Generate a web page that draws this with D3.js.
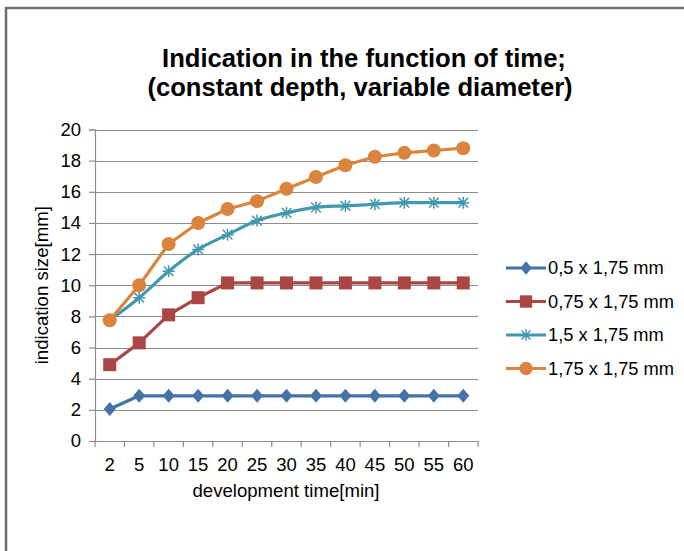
<!DOCTYPE html>
<html>
<head>
<meta charset="utf-8">
<script src="https://cdn.jsdelivr.net/npm/d3@7"></script>
<style>
  html, body { margin: 0; padding: 0; background: #fff; }
  svg { display: block; font-family: Arial, "Liberation Sans", sans-serif; }
</style>
</head>
<body>
<svg id="chart" width="684" height="551"></svg>
<script>
const categories = ["2", "5", "10", "15", "20", "25", "30", "35", "40", "45", "50", "55", "60"];
const yTicks = [0, 2, 4, 6, 8, 10, 12, 14, 16, 18, 20];
const seriesNames = ["0,5 x 1,75 mm", "0,75 x 1,75 mm", "1,5 x 1,75 mm", "1,75 x 1,75 mm"];
const s05  = [2.05, 2.9, 2.9, 2.9, 2.9, 2.9, 2.9, 2.9, 2.9, 2.9, 2.9, 2.9, 2.9];
const s075 = [4.9, 6.3, 8.1, 9.2, 10.15, 10.15, 10.15, 10.15, 10.15, 10.15, 10.15, 10.15, 10.15];
const s15  = [7.75, 9.2, 10.9, 12.3, 13.25, 14.15, 14.65, 15.0, 15.1, 15.2, 15.3, 15.3, 15.3];
const s175 = [7.75, 10.0, 12.65, 14.0, 14.9, 15.4, 16.2, 16.95, 17.7, 18.25, 18.5, 18.65, 18.8];
const seriesValues = [s05, s075, s15, s175];
const colors = ["#4572A7", "#AA4643", "#4198AF", "#DB843D"];
const markers = ["diamond", "square", "star", "circle"];
const smooth = [false, false, true, false];

const svg = d3.select("#chart");

// outer chart border (cropped on right/bottom)
svg.append("rect")
  .attr("x", 6).attr("y", 8).attr("width", 720).attr("height", 600)
  .attr("fill", "#fff").attr("stroke", "#6e6e6e").attr("stroke-width", 2.5);

const plot = { left: 95, right: 478, top: 129.5, bottom: 441 };

const x = d3.scaleBand().domain(categories).range([plot.left, plot.right]).padding(0);
const y = d3.scaleLinear().domain([0, 20]).range([plot.bottom, plot.top]);

// gridlines
svg.append("g").selectAll("line").data(yTicks.filter(d => d > 0)).join("line")
  .attr("x1", plot.left).attr("x2", plot.right)
  .attr("y1", d => Math.round(y(d)) + 0.5).attr("y2", d => Math.round(y(d)) + 0.5)
  .attr("stroke", "#8c8c8c").attr("stroke-width", 1.2);

// y axis
const yAxis = svg.append("g")
  .attr("transform", `translate(${plot.left},0)`)
  .call(d3.axisLeft(y).tickValues(yTicks).tickSize(6).tickPadding(8));
yAxis.select(".domain").attr("stroke", "#8c8c8c").attr("stroke-width", 1.2);
yAxis.selectAll(".tick line").attr("stroke", "#8c8c8c").attr("stroke-width", 1.2);
yAxis.selectAll(".tick text").attr("font-size", "18.5px").attr("fill", "#000")
  .attr("font-family", "Arial, 'Liberation Sans', sans-serif");

// x axis
const xAxis = svg.append("g")
  .attr("transform", `translate(0,${plot.bottom})`)
  .call(d3.axisBottom(x).tickSize(0).tickPadding(17));
xAxis.select(".domain").attr("stroke", "#8c8c8c").attr("stroke-width", 1.2);
xAxis.selectAll(".tick text").attr("font-size", "18.5px").attr("fill", "#000")
  .attr("font-family", "Arial, 'Liberation Sans', sans-serif");
// band boundary ticks
const bounds = categories.map(c => x(c)).concat([plot.right]);
svg.append("g").selectAll("line").data(bounds).join("line")
  .attr("x1", d => d).attr("x2", d => d)
  .attr("y1", plot.bottom).attr("y2", plot.bottom + 6)
  .attr("stroke", "#8c8c8c").attr("stroke-width", 1.2);

// axis titles
svg.append("text")
  .attr("x", 286).attr("y", 497)
  .attr("text-anchor", "middle").attr("font-size", "18.6px").attr("fill", "#000")
  .text("development time[min]");
svg.append("text")
  .attr("transform", `translate(48,${(plot.top + plot.bottom) / 2}) rotate(-90)`)
  .attr("text-anchor", "middle").attr("font-size", "18.6px").attr("fill", "#000")
  .text("indication size[mm]");

// title
const title = svg.append("text").attr("text-anchor", "middle")
  .attr("font-size", "25.6px").attr("font-weight", "bold").attr("fill", "#000");
title.append("tspan").attr("x", 364).attr("y", 67).text("Indication in the function of time;");
title.append("tspan").attr("x", 360).attr("y", 96).text("(constant depth, variable diameter)");

function drawMarker(g, type, color, cx, cy, scale) {
  const s = scale || 1;
  if (type === "diamond") {
    const w = 6 * s, h = 7 * s;
    g.append("path").attr("d", `M${cx},${cy - h}L${cx + w},${cy}L${cx},${cy + h}L${cx - w},${cy}Z`)
      .attr("fill", color);
  } else if (type === "square") {
    const a = 6.5 * s;
    g.append("rect").attr("x", cx - a).attr("y", cy - a).attr("width", 2 * a).attr("height", 2 * a)
      .attr("fill", color);
  } else if (type === "circle") {
    g.append("circle").attr("cx", cx).attr("cy", cy).attr("r", 7 * s).attr("fill", color);
  } else if (type === "star") {
    const r = 6 * s;
    const d = r * 0.8;
    g.append("path")
      .attr("d", `M${cx},${cy - r}L${cx},${cy + r}M${cx - d},${cy - d}L${cx + d},${cy + d}M${cx - d},${cy + d}L${cx + d},${cy - d}M${cx - r},${cy}L${cx + r},${cy}`)
      .attr("stroke", color).attr("stroke-width", 1.5).attr("fill", "none");
  }
}

// series
seriesValues.forEach((vals, i) => {
  const g = svg.append("g");
  const pts = vals.map((v, j) => [x(categories[j]) + x.bandwidth() / 2, y(v)]);
  const line = d3.line().curve(smooth[i] ? d3.curveCatmullRom.alpha(0.5) : d3.curveLinear);
  g.append("path").attr("d", line(pts))
    .attr("fill", "none").attr("stroke", colors[i]).attr("stroke-width", 3.2)
    .attr("stroke-linejoin", "round").attr("stroke-linecap", "round");
  pts.forEach(p => drawMarker(g, markers[i], colors[i], p[0], p[1], 1));
});

// legend
const legendY = [268, 301.5, 335, 368.5];
seriesNames.forEach((name, i) => {
  const g = svg.append("g");
  g.append("line").attr("x1", 506).attr("x2", 546)
    .attr("y1", legendY[i]).attr("y2", legendY[i])
    .attr("stroke", colors[i]).attr("stroke-width", 3.2);
  drawMarker(g, markers[i], colors[i], 526, legendY[i], 0.95);
  g.append("text").attr("x", 548).attr("y", legendY[i]).attr("dy", "0.35em")
    .attr("font-size", "18.3px").attr("fill", "#000").text(name);
});
</script>
</body>
</html>
